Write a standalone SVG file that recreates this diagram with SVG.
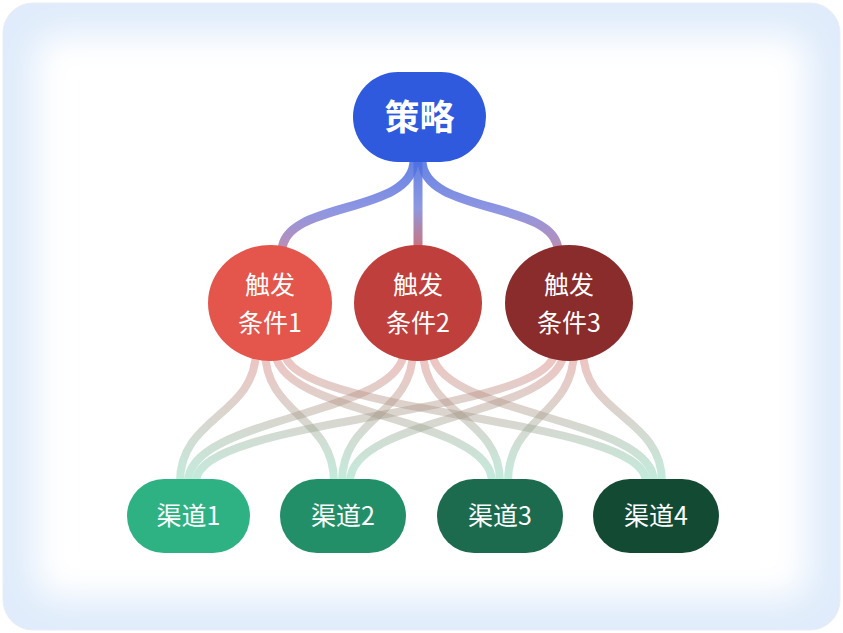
<svg xmlns="http://www.w3.org/2000/svg" width="843" height="633" viewBox="0 0 843 633">
<defs>
<filter id="soft" x="-20%" y="-20%" width="140%" height="140%"><feGaussianBlur stdDeviation="16"/></filter>
<linearGradient id="gTop" gradientUnits="userSpaceOnUse" x1="0" y1="165" x2="0" y2="250"><stop offset="0" stop-color="#4d6fe0"/><stop offset="0.55" stop-color="#7c84dc"/><stop offset="1" stop-color="#b07aa6"/></linearGradient>
<linearGradient id="gTopMid" gradientUnits="userSpaceOnUse" x1="0" y1="165" x2="0" y2="250"><stop offset="0" stop-color="#4d6fe0"/><stop offset="0.5" stop-color="#7a86dc"/><stop offset="1" stop-color="#c45a5e"/></linearGradient>
<linearGradient id="gBot" gradientUnits="userSpaceOnUse" x1="0" y1="352" x2="0" y2="482"><stop offset="0" stop-color="#d9716c"/><stop offset="0.5" stop-color="#a59c8c"/><stop offset="1" stop-color="#6ed0ad"/></linearGradient>
<style>
.top{fill:none;stroke-width:9;stroke-linecap:round;opacity:0.85}
.bot{fill:none;stroke:url(#gBot);stroke-width:8;opacity:0.42}
.t{font-family:"Noto Sans CJK SC","Noto Sans",sans-serif;fill:#ffffff;text-anchor:middle}
.lbl{font-size:25px}
</style>
</defs>
<g id="background">
<rect x="3" y="3" width="837" height="627" rx="30" fill="#e0ecfb" stroke="#e9eef5" stroke-width="1"/>
<rect x="35" y="35" width="773" height="563" rx="24" fill="#ffffff" filter="url(#soft)"/>
</g>
<g id="connectors">
<path class="top" stroke="url(#gTop)" d="M414,160 C414,215 285,200 282,250"/>
<path class="top" stroke="url(#gTopMid)" d="M418,160 L418,250"/>
<path class="top" stroke="url(#gTop)" d="M422,160 C422,215 555,200 558,250"/>
<path class="bot" d="M256,350 C256,416 180,416 180,482"/>
<path class="bot" d="M265,350 C265,416 334,416 334,482"/>
<path class="bot" d="M275,350 C275,416 492,416 492,482"/>
<path class="bot" d="M284,350 C284,416 646,416 646,482"/>
<path class="bot" d="M404,350 C404,416 188,416 188,482"/>
<path class="bot" d="M413,350 C413,416 342,416 342,482"/>
<path class="bot" d="M423,350 C423,416 500,416 500,482"/>
<path class="bot" d="M432,350 C432,416 654,416 654,482"/>
<path class="bot" d="M555,350 C555,416 196,416 196,482"/>
<path class="bot" d="M564,350 C564,416 350,416 350,482"/>
<path class="bot" d="M574,350 C574,416 508,416 508,482"/>
<path class="bot" d="M583,350 C583,416 662,416 662,482"/>
</g>
<g id="strategy">
<rect x="353" y="72" width="133" height="90" rx="45" fill="#2f5ade"/>
<text class="t" x="419.5" y="130" font-size="35" font-weight="bold">策略</text>
</g>
<g id="cond1">
<ellipse cx="270" cy="303" rx="62" ry="58" fill="#e4554c"/>
<text class="t lbl" x="270" y="294">触发</text>
<text class="t lbl" x="270" y="332">条件1</text>
</g>
<g id="cond2">
<ellipse cx="418" cy="303" rx="64" ry="58" fill="#bf3f3d"/>
<text class="t lbl" x="418" y="294">触发</text>
<text class="t lbl" x="418" y="332">条件2</text>
</g>
<g id="cond3">
<ellipse cx="569" cy="303" rx="64" ry="58" fill="#8a2b2c"/>
<text class="t lbl" x="569" y="294">触发</text>
<text class="t lbl" x="569" y="332">条件3</text>
</g>
<g id="ch1">
<rect x="127" y="479" width="123" height="74" rx="37" fill="#2eb283"/>
<text class="t lbl" x="188.5" y="525">渠道1</text>
</g>
<g id="ch2">
<rect x="280" y="479" width="126" height="74" rx="37" fill="#238f69"/>
<text class="t lbl" x="343" y="525">渠道2</text>
</g>
<g id="ch3">
<rect x="437" y="479" width="126" height="74" rx="37" fill="#1c6b4f"/>
<text class="t lbl" x="500" y="525">渠道3</text>
</g>
<g id="ch4">
<rect x="593" y="479" width="126" height="74" rx="37" fill="#134a34"/>
<text class="t lbl" x="656" y="525">渠道4</text>
</g>
</svg>
